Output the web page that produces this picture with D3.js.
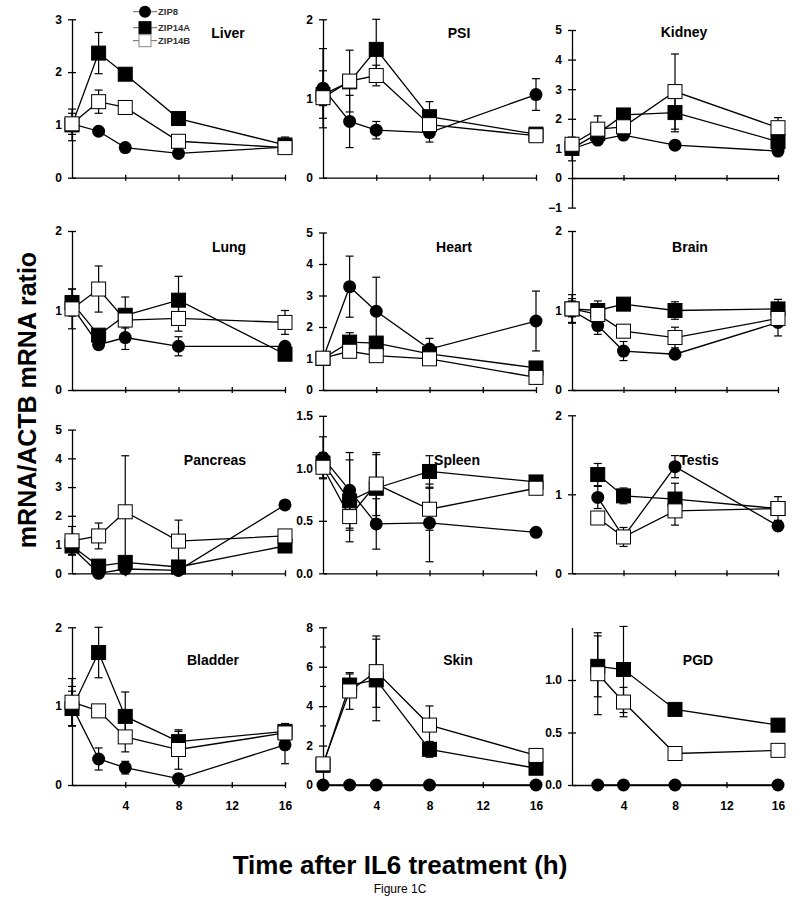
<!DOCTYPE html>
<html><head><meta charset="utf-8">
<script src="https://cdn.jsdelivr.net/npm/d3@7"></script>
<style>
body{margin:0;background:#fff}
svg{display:block}
text{font-family:"Liberation Sans", Arial, sans-serif}
</style>
</head><body><svg id="c" width="800" height="914"></svg>
<script>
// ---------------- DATA ----------------
const hours = [0, 2, 4, 8, 16];
const seriesNames = ["ZIP8", "ZIP14A", "ZIP14B"];
const tissues = ["Liver","PSI","Kidney","Lung","Heart","Brain","Pancreas","Spleen","Testis","Bladder","Skin","PGD"];

const zip8 = [
  [1.02, 0.88, 0.57, 0.46, 0.58],
  [1.13, 0.71, 0.60, 0.57, 1.05],
  [0.98, 1.28, 1.45, 1.11, 0.91],
  [1.05, 0.57, 0.66, 0.55, 0.55],
  [1.00, 3.28, 2.50, 1.30, 2.19],
  [1.00, 0.81, 0.49, 0.45, 0.85],
  [0.90, 0.00, 0.15, 0.10, 2.38],
  [1.10, 0.79, 0.47, 0.48, 0.39],
  [null, 0.96, 0.46, 1.35, 0.60],
  [1.00, 0.33, 0.22, 0.08, 0.51],
  [0, 0, 0, 0, 0],
  [null, 0, 0, 0, 0]
];
const zip8Err = [
  [0.05, 0.05, 0.05, 0.05, 0.05],
  [0.50, 0.33, 0.11, 0.12, 0.20],
  [0.40, 0.10, 0.10, 0.10, 0.10],
  [0.10, 0.05, 0.15, 0.12, 0.05],
  [0.10, 0.97, 1.08, 0.34, 0.95],
  [0.15, 0.11, 0.12, 0.05, 0.17],
  [0.10, 0.00, 0.05, 0.05, 0.05],
  [0.20, 0.36, 0.24, 0.37, 0.03],
  [0, 0.14, 0.05, 0.14, 0.05],
  [0.25, 0.14, 0.08, 0.05, 0.24],
  [0, 0, 0, 0, 0],
  [0, 0, 0, 0, 0]
];
const zip14a = [
  [1.00, 2.36, 1.96, 1.12, 0.62],
  [1.05, 1.21, 1.62, 0.77, 0.55],
  [1.00, 1.50, 2.13, 2.21, 1.23],
  [1.10, 0.69, 0.94, 1.13, 0.45],
  [1.00, 1.52, 1.49, 1.15, 0.70],
  [1.02, 1.00, 1.08, 1.00, 1.02],
  [0.95, 0.25, 0.38, 0.22, 0.95],
  [1.05, 0.69, 0.81, 0.97, 0.87],
  [null, 1.25, 0.98, 0.94, 0.82],
  [0.97, 1.68, 0.87, 0.55, 0.68],
  [1.00, 5.07, 5.33, 1.81, 0.85],
  [null, 1.13, 1.10, 0.72, 0.57]
];
const zip14aErr = [
  [0.30, 0.39, 0.05, 0.05, 0.15],
  [0.30, 0.05, 0.38, 0.19, 0.05],
  [0.20, 0.10, 0.10, 0.65, 0.20],
  [0.17, 0.05, 0.23, 0.30, 0.05],
  [0.10, 0.30, 0.10, 0.10, 0.10],
  [0.18, 0.05, 0.05, 0.11, 0.12],
  [0.30, 0.05, 0.05, 0.05, 0.10],
  [0.10, 0.39, 0.32, 0.15, 0.05],
  [0, 0.14, 0.10, 0.20, 0.05],
  [0.22, 0.32, 0.31, 0.13, 0.10],
  [0.10, 0.56, 2.07, 0.40, 0.10],
  [0, 0.29, 0.41, 0.03, 0.06]
];
const zip14b = [
  [1.02, 1.44, 1.33, 0.69, 0.57],
  [1.01, 1.22, 1.29, 0.67, 0.53],
  [1.14, 1.65, 1.73, 2.92, 1.70],
  [1.02, 1.27, 0.88, 0.90, 0.85],
  [1.01, 1.23, 1.09, 0.99, 0.40],
  [1.02, 0.95, 0.74, 0.66, 0.90],
  [1.13, 1.30, 2.14, 1.12, 1.30],
  [1.01, 0.54, 0.85, 0.61, 0.81],
  [null, 0.70, 0.46, 0.79, 0.82],
  [1.05, 0.94, 0.61, 0.45, 0.66],
  [1.07, 4.77, 5.75, 3.04, 1.50],
  [null, 1.06, 0.79, 0.30, 0.33]
];
const zip14bErr = [
  [0.20, 0.22, 0.05, 0.05, 0.08],
  [0.10, 0.39, 0.13, 0.08, 0.06],
  [0.20, 0.45, 0.10, 1.27, 0.34],
  [0.25, 0.29, 0.10, 0.16, 0.15],
  [0.10, 0.20, 0.10, 0.10, 0.10],
  [0.10, 0.17, 0.08, 0.13, 0.10],
  [0.50, 0.45, 1.95, 0.73, 0.10],
  [0.10, 0.13, 0.30, 0.20, 0.05],
  [0, 0.05, 0.12, 0.18, 0.15],
  [0.30, 0.05, 0.19, 0.25, 0.10],
  [0.10, 0.93, 1.81, 0.97, 0.25],
  [0, 0.39, 0.14, 0.03, 0.05]
];

const yDomains = [[0,3],[0,2],[-1,5],[0,2],[0,5],[0,2],[0,5],[0,1.5],[0,2],[0,2],[0,8],[0,1.5]];
const yTickValues = [
  [0,1,2,3],[0,1,2],[-1,0,1,2,3,4,5],
  [0,1,2],[0,1,2,3,4,5],[0,1,2],
  [0,1,2,3,4,5],[0,0.5,1,1.5],[0,1,2],
  [0,1,2],[0,2,4,6,8],[0,0.5,1]
];
const yMinorTicks = [[],[],[],[],[],[],[],[],[],[],[1,3,5,7],[]];
const yTickFormats = ["d","d","d","d","d","d","d",".1f","d","d","d",".1f"];
const xTickValues = [4, 8, 12, 16];

// ---------------- LAYOUT ----------------
const colX = [[72, 285], [323, 536], [572, 778]];
const panelY = [
  [177.7, 19.3], [177.7, 19.3], [207.6, 30],
  [390, 231], [390, 232.5], [390, 231],
  [573.3, 429.6], [573.3, 415.8], [573.3, 415.3],
  [785, 627.3], [785, 627.3], [785, 627.5]
];
const titlePos = [
  [228, 38], [459, 38], [684, 37],
  [229, 252], [454, 252], [690, 252],
  [215, 465], [457, 465], [699, 465],
  [213, 665], [458, 665], [698, 665]
];

const svg = d3.select("#c");
svg.append("rect").attr("width", 800).attr("height", 914).attr("fill", "#fff");

const seriesVals = [zip8, zip14a, zip14b];
const seriesErrs = [zip8Err, zip14aErr, zip14bErr];
const FONT = '"Liberation Sans", Arial, sans-serif';

function drawMarker(g, k, cx, cy, size) {
  if (k === 0) {
    g.append("circle").attr("cx", cx).attr("cy", cy).attr("r", size / 2)
      .attr("fill", "#000");
  } else {
    g.append("rect").attr("x", cx - size / 2).attr("y", cy - size / 2)
      .attr("width", size).attr("height", size)
      .attr("fill", k === 1 ? "#000" : "#fff").attr("stroke", "#000").attr("stroke-width", 1);
  }
}

tissues.forEach((name, i) => {
  const col = i % 3, row = Math.floor(i / 3);
  const x = d3.scaleLinear().domain([0, 16]).range(colX[col]);
  const y = d3.scaleLinear().domain(yDomains[i]).range(panelY[i]);
  const g = svg.append("g");

  // y axis
  const yAx = d3.axisLeft(y).tickValues(yTickValues[i])
    .tickFormat(d3.format(yTickFormats[i])).tickSizeOuter(0).tickSizeInner(4).tickPadding(6);
  const ya = g.append("g").attr("transform", `translate(${colX[col][0]},0)`).call(yAx);
  ya.selectAll(".tick line").attr("x1", 4).attr("x2", -4).attr("stroke-width", 1.3);
  ya.select(".domain").attr("stroke-width", 1.3);
  ya.selectAll("text").attr("font-family", FONT).attr("font-size", 12)
    .attr("font-weight", "bold").attr("fill", "#000");
  yMinorTicks[i].forEach(v => {
    ya.append("line").attr("x1", -3).attr("x2", 3).attr("y1", y(v)).attr("y2", y(v))
      .attr("stroke", "#000").attr("stroke-width", 1.2);
  });

  // x axis
  const bottom = row === 3;
  const xAx = d3.axisBottom(x).tickValues(xTickValues)
    .tickFormat(bottom ? d3.format("d") : () => "").tickSizeOuter(0).tickSizeInner(3).tickPadding(13);
  const xa = g.append("g").attr("transform", `translate(0,${y(0)})`).call(xAx);
  xa.selectAll(".tick line").attr("y1", -3).attr("y2", 3).attr("stroke-width", 1.3);
  xa.select(".domain").attr("stroke-width", 1.3);
  xa.selectAll("text").attr("font-family", FONT).attr("font-size", 12)
    .attr("font-weight", "bold").attr("fill", "#000");

  // series
  seriesVals.forEach((vals, k) => {
    const pts = hours.map((h, j) => ({ h, v: vals[i][j], e: seriesErrs[k][i][j] }))
      .filter(p => p.v !== null);
    const sg = g.append("g");
    pts.forEach(p => {
      if (p.e > 0) {
        const y1 = y(p.v + p.e), y2 = y(Math.max(p.v - p.e, yDomains[i][0]));
        sg.append("line").attr("x1", x(p.h)).attr("x2", x(p.h)).attr("y1", y1).attr("y2", y2)
          .attr("stroke", "#000").attr("stroke-width", 1.2);
        sg.append("line").attr("x1", x(p.h) - 4).attr("x2", x(p.h) + 4).attr("y1", y1).attr("y2", y1)
          .attr("stroke", "#000").attr("stroke-width", 1.2);
        if (p.v - p.e > yDomains[i][0])
          sg.append("line").attr("x1", x(p.h) - 4).attr("x2", x(p.h) + 4).attr("y1", y2).attr("y2", y2)
            .attr("stroke", "#000").attr("stroke-width", 1.2);
      }
    });
    sg.append("path").datum(pts)
      .attr("d", d3.line().x(p => x(p.h)).y(p => y(p.v)))
      .attr("fill", "none").attr("stroke", "#000").attr("stroke-width", 1.3);
    pts.forEach(p => drawMarker(sg, k, x(p.h), y(p.v), k === 0 ? 13 : 14));
  });

  // title
  g.append("text").attr("x", titlePos[i][0]).attr("y", titlePos[i][1])
    .attr("text-anchor", "middle").attr("font-family", FONT)
    .attr("font-size", 14).attr("font-weight", "bold").text(name);
});

// legend (inside Liver panel)
const lg = svg.append("g");
seriesNames.forEach((s, k) => {
  const cy = [11.7, 27.7, 40.7][k];
  lg.append("line").attr("x1", 133).attr("x2", 157).attr("y1", cy).attr("y2", cy)
    .attr("stroke", "#666").attr("stroke-width", 1);
  if (k === 0) {
    lg.append("circle").attr("cx", 145).attr("cy", cy).attr("r", 6).attr("fill", "#000");
  } else {
    lg.append("rect").attr("x", 139).attr("y", cy - 6).attr("width", 12).attr("height", 12)
      .attr("fill", k === 1 ? "#000" : "#fff").attr("stroke", k === 1 ? "#000" : "#888").attr("stroke-width", 1);
  }
  lg.append("text").attr("x", 158).attr("y", cy + 3.3).attr("font-family", FONT)
    .attr("font-size", 9.5).attr("font-weight", "bold").attr("fill", "#333").text(s);
});

// axis titles
svg.append("text").attr("transform", "translate(36,400) rotate(-90)")
  .attr("text-anchor", "middle").attr("font-family", FONT).attr("font-size", 25)
  .attr("font-weight", "bold").text("mRNA/ACTB mRNA ratio");
svg.append("text").attr("x", 400).attr("y", 874)
  .attr("text-anchor", "middle").attr("font-family", FONT).attr("font-size", 26)
  .attr("font-weight", "bold").text("Time after IL6 treatment (h)");
svg.append("text").attr("x", 400).attr("y", 893)
  .attr("text-anchor", "middle").attr("font-family", FONT).attr("font-size", 12)
  .text("Figure 1C");
</script>
</body></html>
